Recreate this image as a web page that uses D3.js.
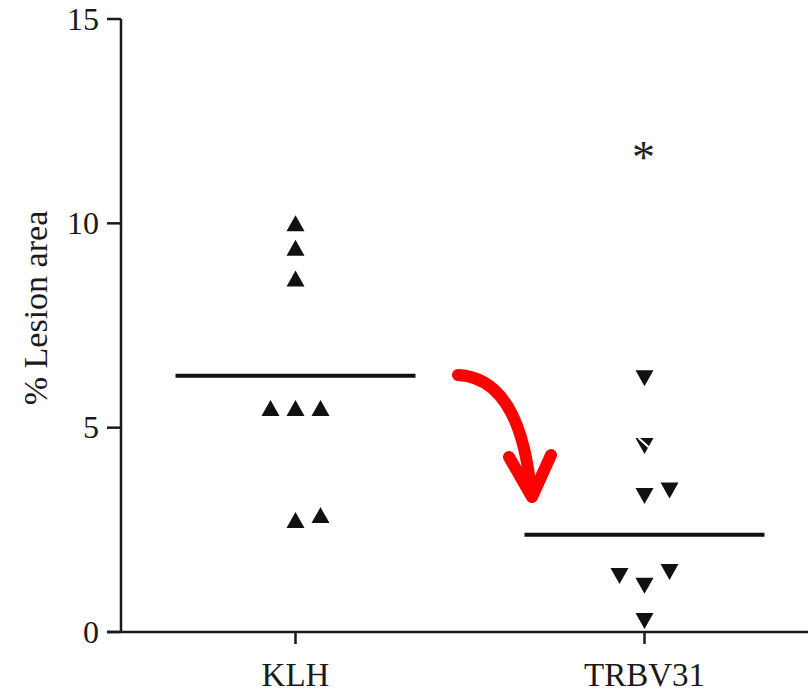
<!DOCTYPE html>
<html>
<head>
<meta charset="utf-8">
<script src="https://cdn.jsdelivr.net/npm/d3@7"></script>
<style>
  html, body { margin: 0; padding: 0; background: #fff; }
  svg { display: block; }
  text { font-family: "Liberation Serif", serif; }
</style>
</head>
<body>
<svg id="chart" width="808" height="692"></svg>
<script>
// ---- data ----
const categories = ["KLH", "TRBV31"];
const yTicks = [0, 5, 10, 15];
const klhValues = [10.0, 9.4, 8.65, 5.48, 5.48, 5.48, 2.74, 2.86];
const klhSlots  = [0, 0, 0, -1, 0, 1, 0, 1];
const trbvValues = [6.21, 4.55, 3.33, 3.46, 1.37, 1.13, 1.47, 0.27];
const trbvSlots  = [0, 0, 0, 1, -1, 0, 1, 0];
const means = [6.27, 2.38];
const asteriskValue = 11.75;

// ---- layout ----
const svg = d3.select("#chart");
const axisX = 121, axisY0 = 632, axisYTop = 19;
const y = d3.scaleLinear().domain([0, 15]).range([axisY0, axisYTop]);
const x = d3.scalePoint().domain(categories).range([axisX, 819]).padding(0.5);
const slotW = 25;
const ink = "#1a1a1a";

// y axis
svg.append("line").attr("x1", axisX).attr("x2", axisX)
  .attr("y1", axisYTop).attr("y2", axisY0)
  .attr("stroke", ink).attr("stroke-width", 2.5);
svg.selectAll(".ytick").data(yTicks).enter().append("line")
  .attr("x1", 107).attr("x2", axisX)
  .attr("y1", d => y(d)).attr("y2", d => y(d))
  .attr("stroke", ink).attr("stroke-width", 2.5);
svg.selectAll(".ylab").data(yTicks).enter().append("text")
  .attr("x", 99).attr("y", d => y(d)).attr("dy", "0.33em")
  .attr("text-anchor", "end")
  .attr("font-size", 32).attr("fill", ink)
  .text(d => d);

// x axis
svg.append("line").attr("x1", 107).attr("x2", 808)
  .attr("y1", axisY0).attr("y2", axisY0)
  .attr("stroke", ink).attr("stroke-width", 2.5);
svg.selectAll(".xtick").data(categories).enter().append("line")
  .attr("x1", d => x(d)).attr("x2", d => x(d))
  .attr("y1", axisY0).attr("y2", 644)
  .attr("stroke", ink).attr("stroke-width", 2.5);
svg.selectAll(".xlab").data(categories).enter().append("text")
  .attr("x", d => x(d)).attr("y", 686)
  .attr("text-anchor", "middle")
  .attr("font-size", 33).attr("fill", ink)
  .text(d => d);

// y axis title
svg.append("text")
  .attr("transform", "translate(47,308) rotate(-90)")
  .attr("text-anchor", "middle")
  .attr("font-size", 34).attr("fill", ink)
  .text("% Lesion area");

// triangles
const tw = 18, th = 16;
function triUp(cx, cy) {
  return `M${cx},${cy - th/2}L${cx + tw/2},${cy + th/2}L${cx - tw/2},${cy + th/2}Z`;
}
function triDown(cx, cy) {
  return `M${cx - tw/2},${cy - th/2}L${cx + tw/2},${cy - th/2}L${cx},${cy + th/2}Z`;
}
svg.selectAll(".klh").data(klhValues).enter().append("path")
  .attr("d", (d, i) => triUp(x("KLH") + klhSlots[i] * slotW, y(d)))
  .attr("fill", "#111");
svg.selectAll(".trbv").data(trbvValues).enter().append("path")
  .attr("d", (d, i) => triDown(x("TRBV31") + trbvSlots[i] * slotW, y(d)))
  .attr("fill", "#111");
// white scratch artifact on second TRBV31 marker
svg.append("line")
  .attr("x1", x("TRBV31") - 6).attr("y1", y(trbvValues[1]) - 8)
  .attr("x2", x("TRBV31") + 4).attr("y2", y(trbvValues[1]) + 1)
  .attr("stroke", "#fff").attr("stroke-width", 2);

// mean lines
svg.selectAll(".mean").data(means).enter().append("line")
  .attr("x1", (d, i) => x(categories[i]) - 120)
  .attr("x2", (d, i) => x(categories[i]) + 120)
  .attr("y1", d => y(d)).attr("y2", d => y(d))
  .attr("stroke", "#111").attr("stroke-width", 4);

// asterisk
svg.append("text")
  .attr("x", x("TRBV31") - 1).attr("y", y(asteriskValue) + 21)
  .attr("text-anchor", "middle")
  .attr("font-size", 46).attr("fill", "#222")
  .text("*");

// red arrow
const arrow = svg.append("g").attr("fill", "none").attr("stroke", "#ff0000")
  .attr("stroke-width", 12).attr("stroke-linecap", "round").attr("stroke-linejoin", "round");
arrow.append("path").attr("d", "M458,375 Q520,378 531,492");
arrow.append("path").attr("d", "M509,457 L532,497 L551,455");
</script>
</body>
</html>
